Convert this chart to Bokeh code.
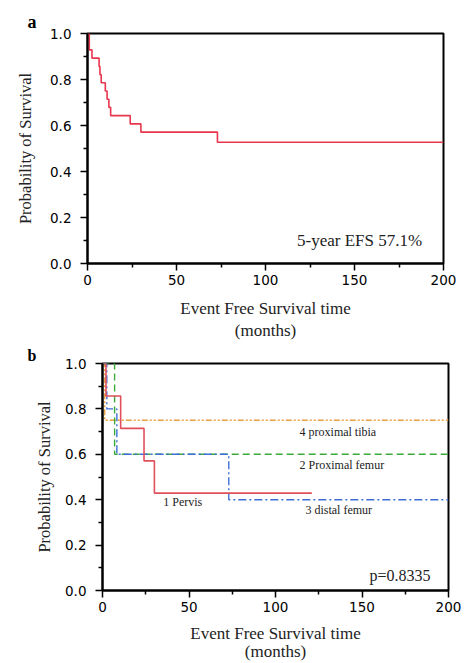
from bokeh.plotting import figure
from bokeh.models import Range1d, Label, FixedTicker
from bokeh.embed import file_html
from bokeh.resources import INLINE

# ---- data: panel a (overall EFS) ----
t_all = [0, 1, 2.5, 6.5, 7, 7.7, 10, 11, 12, 13, 24, 30, 73, 200]
s_all = [1.0, 0.929, 0.893, 0.857, 0.821, 0.786, 0.75, 0.714, 0.679, 0.643, 0.607, 0.571, 0.527, 0.527]

# ---- data: panel b (by site) ----
t_pelvis = [0, 2, 10.5, 24, 30, 121]
s_pelvis = [1.0, 0.857, 0.714, 0.571, 0.429, 0.429]
t_pfemur = [0, 7, 200]
s_pfemur = [1.0, 0.6, 0.6]
t_dfemur = [0, 2.5, 8.3, 73, 200]
s_dfemur = [1.0, 0.8, 0.6, 0.4, 0.4]
t_ptibia = [0, 1.3, 200]
s_ptibia = [1.0, 0.75, 0.75]

x_ticks = [0, 50, 100, 150, 200]
y_ticks = [0.0, 0.2, 0.4, 0.6, 0.8, 1.0]

SERIF = "Liberation Serif"
SANS = "DejaVu Sans"


def make_fig(height, mb_left, mb_right, mb_top, mb_bottom, ylab_standoff, xlab_standoff,
             xlab_line_height, panel, panel_offset, panel_standoff, panel_size):
    p = figure(width=470, height=height, output_backend="svg", toolbar_location=None,
               x_range=Range1d(0, 200), y_range=Range1d(0, 1.0),
               min_border_left=mb_left, min_border_right=mb_right,
               min_border_top=mb_top, min_border_bottom=mb_bottom)
    p.xgrid.visible = False
    p.ygrid.visible = False
    p.outline_line_color = "black"
    p.outline_line_width = 2
    p.outline_line_alpha = 1
    p.background_fill_color = "white"
    p.border_fill_color = "white"
    p.title.text = panel
    p.title.align = "left"
    p.title.offset = panel_offset
    p.title.standoff = panel_standoff
    p.title.text_font = SERIF
    p.title.text_font_size = panel_size
    p.title.text_line_height = 0.9
    p.title.text_font_style = "bold"
    p.title.text_color = "black"
    p.xaxis.ticker = FixedTicker(ticks=x_ticks, minor_ticks=[25, 75, 125, 175])
    p.yaxis.ticker = FixedTicker(ticks=y_ticks, minor_ticks=[0.1, 0.3, 0.5, 0.7, 0.9])
    for ax in (p.xaxis[0], p.yaxis[0]):
        ax.axis_line_width = 2
        ax.axis_line_color = "black"
        ax.major_tick_line_width = 1.5
        ax.minor_tick_line_width = 1.5
        ax.major_tick_in = 0
        ax.major_tick_out = 7
        ax.minor_tick_in = 0
        ax.minor_tick_out = 4
        ax.major_label_text_font = SANS
        ax.major_label_text_font_size = "13.5px"
        ax.major_label_text_color = "black"
        ax.axis_label_text_font = SERIF
        ax.axis_label_text_font_style = "normal"
        ax.axis_label_text_color = "#222222"
    p.yaxis.major_label_overrides = {v: f"{v:.1f}" for v in y_ticks}
    p.xaxis.major_label_standoff = 4
    p.yaxis.major_label_standoff = 9
    p.yaxis.axis_label = "Probability of Survival"
    p.yaxis.axis_label_text_font_size = "16.5px"
    p.yaxis.axis_label_standoff = ylab_standoff
    p.xaxis.axis_label = "Event Free Survival time\n(months)"
    p.xaxis.axis_label_text_font_size = "17px"
    p.xaxis.axis_label_text_line_height = xlab_line_height
    p.xaxis.axis_label_standoff = xlab_standoff
    return p


# ---------------- panel a ----------------
pa = make_fig(342, 87, 27, 33, 79, 12, 11, 1.18, "a", -60, 4, "18px")
pa.step(t_all, s_all, mode="after", line_color="#e8364e", line_width=1.6)
pa.add_layout(Label(x=188, y=0.1, text="5-year EFS 57.1%", text_font=SERIF,
                    text_font_size="17px", text_align="right", text_baseline="middle",
                    text_color="#222222"))

# ---------------- panel b ----------------
pb = make_fig(321, 102, 22, 21, 73, 8, 9, 0.95, "b", -75, 0, "16px")
pb.step(t_ptibia, s_ptibia, mode="after", line_color="#e8a040", line_width=1.4,
        line_dash="6 2 2 2 2 2")
pb.step(t_pfemur, s_pfemur, mode="after", line_color="#3aaa3a", line_width=1.4,
        line_dash="7 4")
pb.step(t_dfemur, s_dfemur, mode="after", line_color="#3f6fd6", line_width=1.4,
        line_dash="8 3 2 3")
pb.step(t_pelvis, s_pelvis, mode="after", line_color="#e0505c", line_width=1.6)

site_labels = ["4 proximal tibia", "2 Proximal femur", "3 distal femur", "1 Pervis"]
site_x = [113.9, 113.9, 117.3, 35.1]
site_y = [0.697, 0.551, 0.354, 0.391]
for txt, lx, ly in zip(site_labels, site_x, site_y):
    pb.add_layout(Label(x=lx, y=ly, text=txt, text_font=SERIF, text_font_size="12px",
                        text_align="left", text_baseline="middle", text_color="#222222"))
pb.add_layout(Label(x=189.6, y=0.066, text="p=0.8335", text_font=SERIF,
                    text_font_size="16px", text_align="right", text_baseline="middle",
                    text_color="#222222"))

open("out.html", "w").write(file_html([pa, pb], INLINE))
